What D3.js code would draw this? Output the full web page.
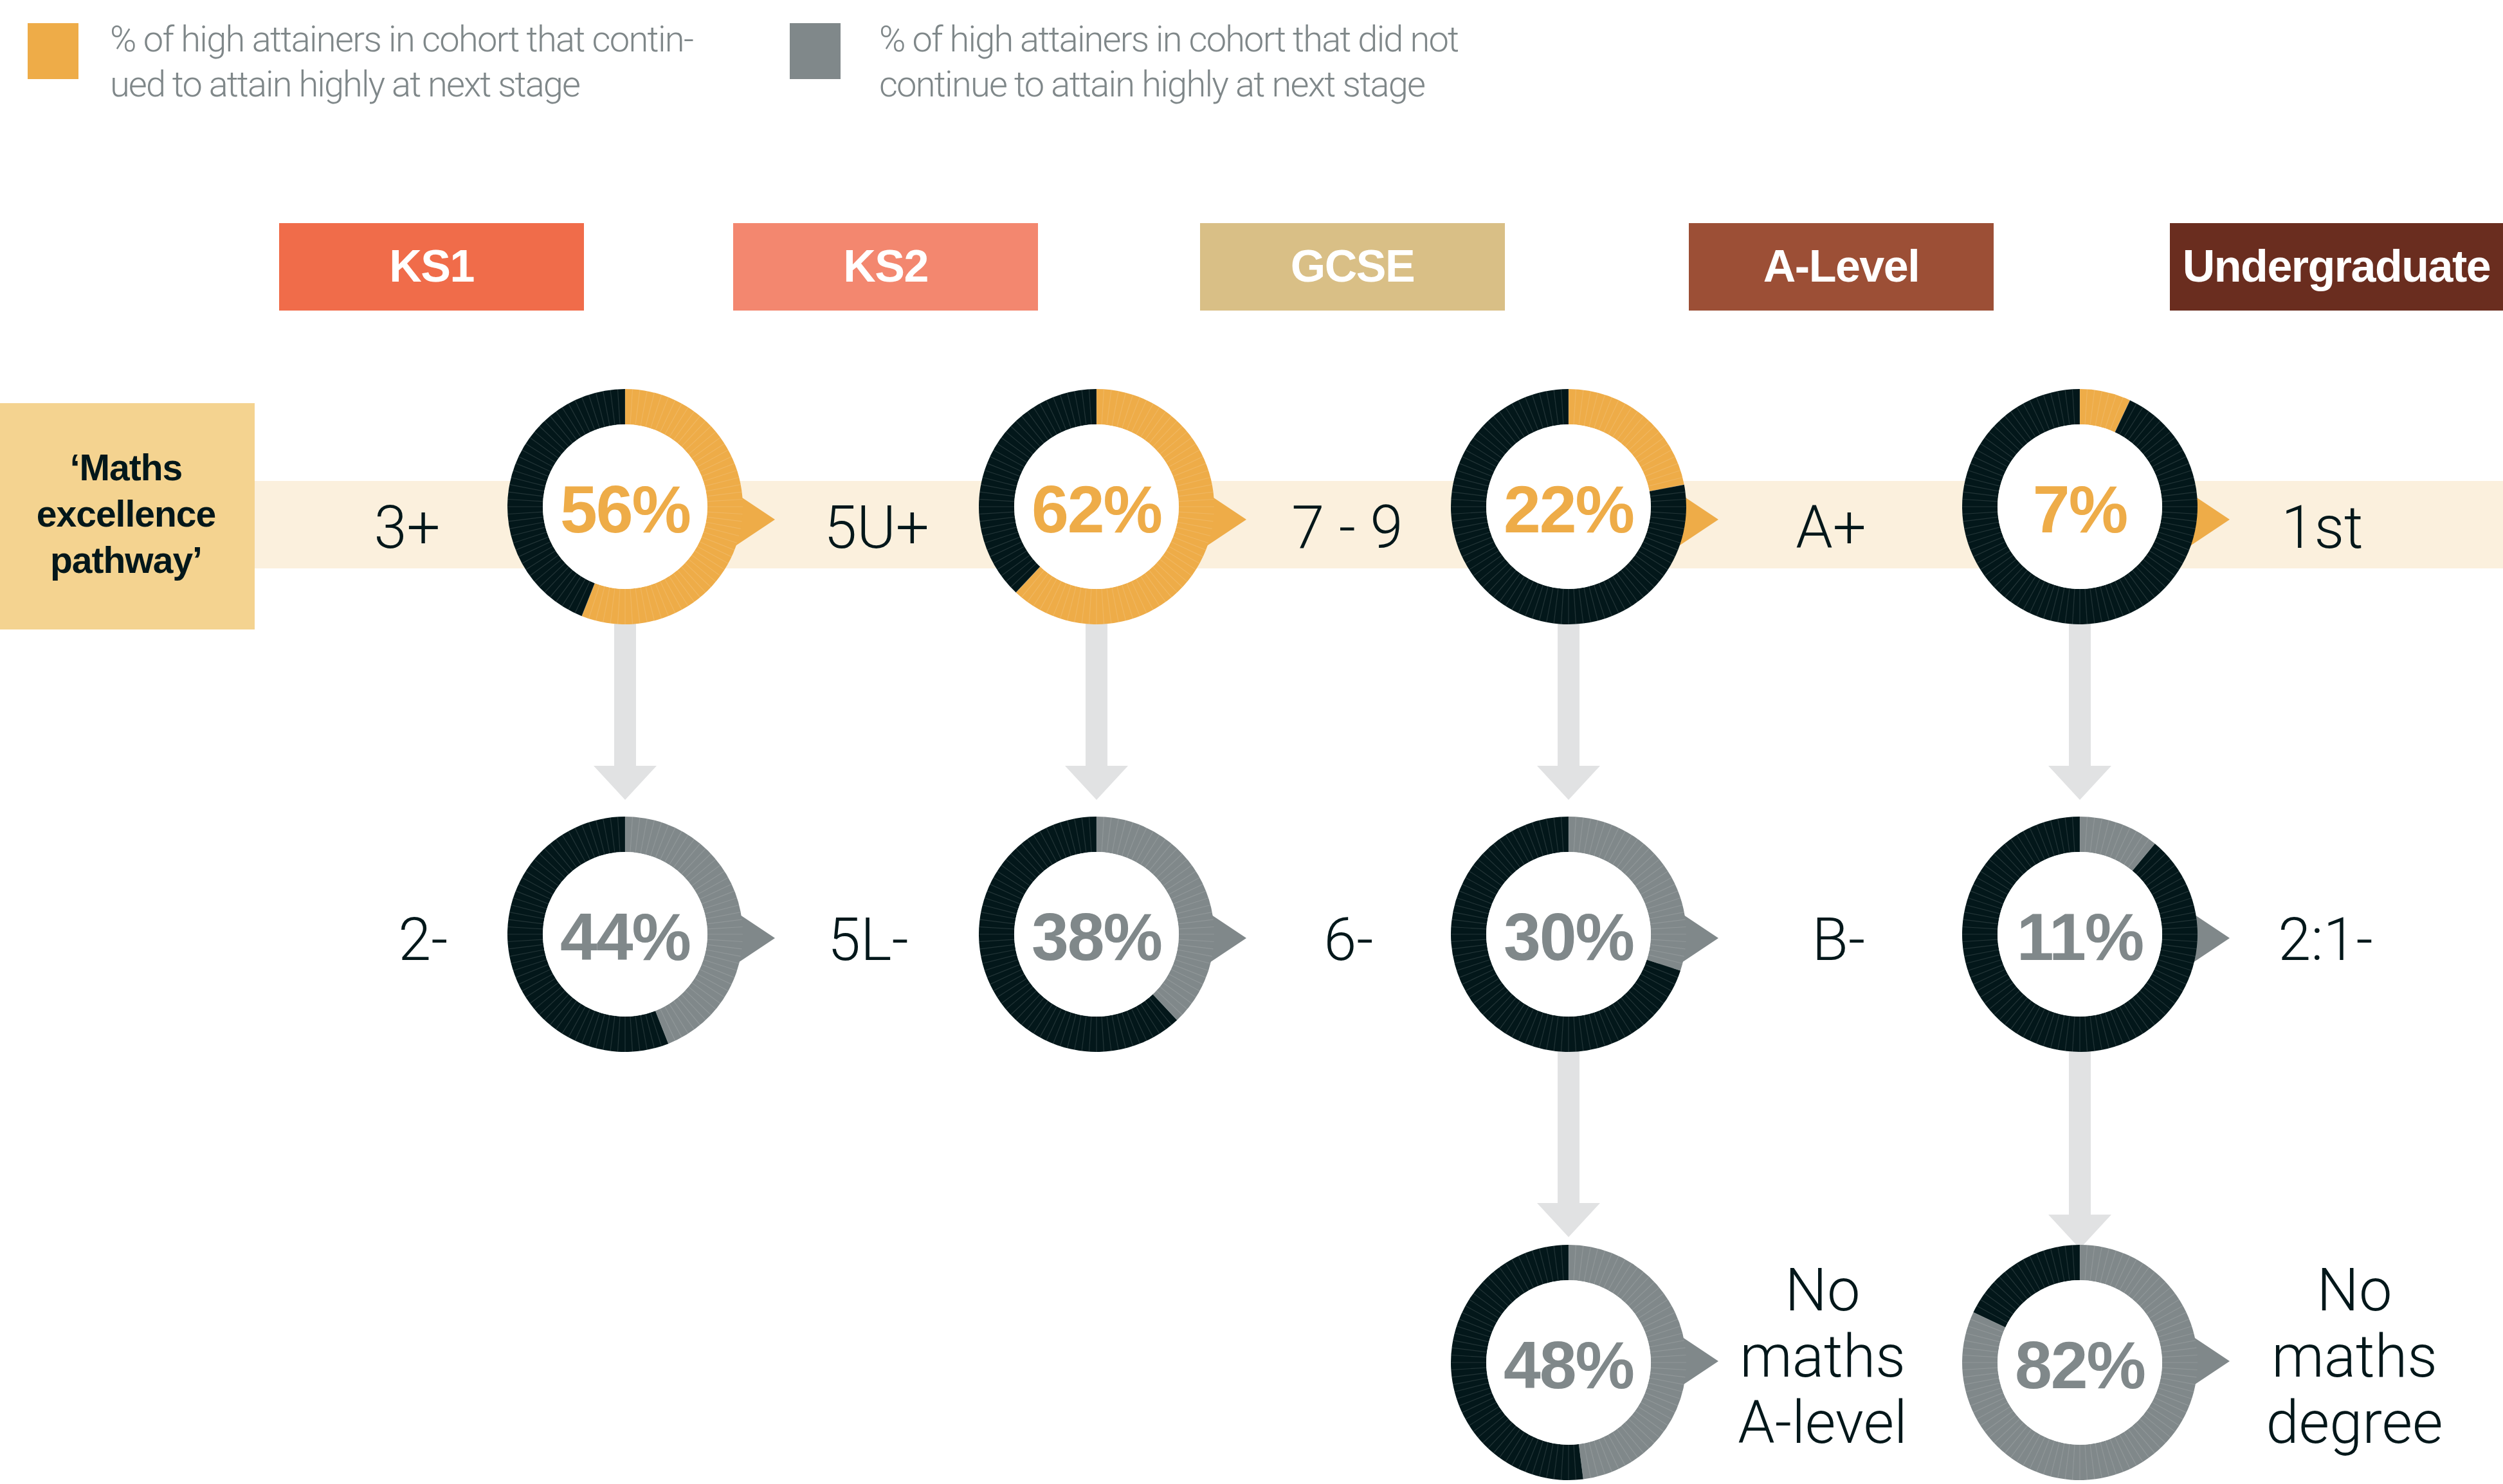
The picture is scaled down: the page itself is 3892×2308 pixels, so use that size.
<!DOCTYPE html>
<html>
<head>
<meta charset="utf-8">
<script src="https://cdn.jsdelivr.net/npm/d3@7"></script>
<style>
  body { margin: 0; background: #fff; }
  svg { display: block; }
  .light { font-family: "Roboto", "Liberation Sans", sans-serif; font-weight: 300; }
  .bold { font-family: "Liberation Sans", Arial, sans-serif; font-weight: 700; }
</style>
</head>
<body>
<svg id="chart" width="3892" height="2308"></svg>
<script>
"use strict";

// data
var stages = ["KS1", "KS2", "GCSE", "A-Level", "Undergraduate"];
var continuedPct = [56, 62, 22, 7];
var notContinuedPct = [44, 38, 30, 11];
var noMathsPct = [48, 82];           // GCSE and A-Level columns
var highGrades = ["3+", "5U+", "7 - 9", "A+", "1st"];
var lowGrades = ["2-", "5L-", "6-", "B-", "2:1-"];
var noMathsLabels = [["No", "maths", "A-level"], ["No", "maths", "degree"]];
var legendLabels = [
    ["% of high attainers in cohort that contin-", "ued to attain highly at next stage"],
    ["% of high attainers in cohort that did not", "continue to attain highly at next stage"]
];
var pathwayLabel = ["\u2018Maths", "excellence", "pathway\u2019"];

// styles
var stageColors = ["#f06c4a", "#f3876f", "#d9bf86", "#9c4f36", "#6a2d1f"];
var ORANGE = "#eeac48", GREY = "#80888a", DARK = "#03171a";
var CREAM = "#fbf0dd", SAND = "#f4d390", CONNECTOR = "#e1e2e3";
var legendColors = [ORANGE, GREY];

var svg = d3.select("#chart");
var W = +svg.attr("width");

// layout scales
var headerX = d3.scaleOrdinal().domain(stages).range([434, 1140, 1866, 2626, 3374]);
var colX = d3.scaleOrdinal().domain(d3.range(4)).range([972, 1705, 2439, 3234]);
var rowY = d3.scaleOrdinal().domain([0, 1, 2]).range([788, 1453, 2119]);
var arrowY = d3.scaleOrdinal().domain([0, 1, 2]).range([808, 1459, 2117]);
var highX = d3.scaleOrdinal().domain(highGrades).range([633, 1363, 2095, 2847, 3611]);
var lowX = d3.scaleOrdinal().domain(lowGrades).range([658, 1350, 2097, 2859, 3616]);
var noMathsX = d3.scaleOrdinal().domain([0, 1]).range([2834, 3661]);
var innerR = 128, outerR = 183;

// ---------------------------------------------------------------- legend
var legend = svg.append("g");
var lg = legend.selectAll("g").data(legendLabels).enter().append("g")
    .attr("transform", function (d, i) { return "translate(" + [43, 1228][i] + ",0)"; });
lg.append("rect")
    .attr("y", 36).attr("width", 79).attr("height", 87)
    .attr("fill", function (d, i) { return legendColors[i]; });
var legendLen = [[908, 732], [902, 850]];
lg.each(function (lines, i) {
    d3.select(this).selectAll("text").data(lines).enter().append("text")
        .attr("class", "light")
        .attr("x", [128, 139][i])
        .attr("y", function (d, j) { return 80 + j * 70; })
        .attr("font-size", 56)
        .attr("fill", "#7f8789")
        .attr("textLength", function (d, j) { return legendLen[i][j]; })
        .attr("lengthAdjust", "spacing")
        .text(function (d) { return d; });
});

// ---------------------------------------------------------------- stage headers
var hdr = svg.append("g").selectAll("g").data(stages).enter().append("g");
hdr.append("rect")
    .attr("x", function (d) { return headerX(d); })
    .attr("y", 347)
    .attr("width", function (d, i) { return i === stages.length - 1 ? W - headerX(d) : 474; })
    .attr("height", 136)
    .attr("fill", function (d, i) { return stageColors[i]; });
hdr.append("text")
    .attr("class", "bold")
    .attr("x", function (d, i) { return i === stages.length - 1 ? (headerX(d) + W) / 2 : headerX(d) + 237; })
    .attr("y", 438)
    .attr("text-anchor", "middle")
    .attr("font-size", 70)
    .attr("letter-spacing", -1.5)
    .attr("fill", "#fff")
    .text(function (d) { return d; });

// ---------------------------------------------------------------- pathway band
svg.append("rect")
    .attr("x", 396).attr("y", 748)
    .attr("width", W - 396).attr("height", 136)
    .attr("fill", CREAM);
svg.append("rect")
    .attr("x", 0).attr("y", 627)
    .attr("width", 396).attr("height", 352)
    .attr("fill", SAND);
svg.append("g").selectAll("text").data(pathwayLabel).enter().append("text")
    .attr("class", "bold")
    .attr("x", 196)
    .attr("y", function (d, i) { return 747 + i * 72; })
    .attr("text-anchor", "middle")
    .attr("font-size", 57)
    .attr("letter-spacing", -1)
    .attr("fill", DARK)
    .text(function (d) { return d; });

// ---------------------------------------------------------------- down connectors
var line = d3.line();
function connector(cx, y0, tipY) {
    var baseY = tipY - 53;
    var pts = [[cx - 17, y0], [cx + 17, y0], [cx + 17, baseY], [cx + 49, baseY],
        [cx, tipY], [cx - 49, baseY], [cx - 17, baseY]];
    svg.append("path").attr("d", line(pts) + "Z").attr("fill", CONNECTOR);
}
continuedPct.forEach(function (v, i) {
    connector(colX(i), rowY(0) + outerR - 10, rowY(1) - outerR - 26);
});
noMathsPct.forEach(function (v, i) {
    connector(colX(i + 2), rowY(1) + outerR - 10, rowY(2) - outerR - (i === 0 ? 12 : -6));
});

// ---------------------------------------------------------------- donuts
var arc = d3.arc().innerRadius(innerR).outerRadius(outerR);
var pie = d3.pie().sort(null).value(function (d) { return d; });

function donut(cx, cy, ay, pct, color) {
    var g = svg.append("g").attr("transform", "translate(" + cx + "," + cy + ")");
    var dy = ay - cy;
    g.append("path")
        .attr("d", line([[140, dy - 62], [233, dy], [140, dy + 62]]) + "Z")
        .attr("fill", color);
    g.selectAll(".seg").data(pie([pct, 100 - pct])).enter().append("path")
        .attr("class", "seg")
        .attr("d", arc)
        .attr("fill", function (d, i) { return i === 0 ? color : DARK; });
    // fine radial rules between the 100 units of the ring
    g.selectAll(".tick").data(d3.range(100)).enter().append("line")
        .attr("class", "tick")
        .attr("x1", function (d) { return innerR * Math.sin(d * Math.PI / 50); })
        .attr("y1", function (d) { return -innerR * Math.cos(d * Math.PI / 50); })
        .attr("x2", function (d) { return outerR * Math.sin(d * Math.PI / 50); })
        .attr("y2", function (d) { return -outerR * Math.cos(d * Math.PI / 50); })
        .attr("stroke", "rgba(255,255,255,0.13)")
        .attr("stroke-width", 1.2);
    g.append("circle").attr("r", innerR).attr("fill", "#fff");
    g.append("text")
        .attr("class", "bold")
        .attr("y", 40)
        .attr("text-anchor", "middle")
        .attr("font-size", 104)
        .attr("letter-spacing", -2)
        .attr("fill", color)
        .text(pct + "%");
}

continuedPct.forEach(function (v, i) { donut(colX(i), rowY(0), arrowY(0), v, ORANGE); });
notContinuedPct.forEach(function (v, i) { donut(colX(i), rowY(1), arrowY(1), v, GREY); });
noMathsPct.forEach(function (v, i) { donut(colX(i + 2), rowY(2), arrowY(2), v, GREY); });

// ---------------------------------------------------------------- grade labels
svg.append("g").selectAll("text").data(highGrades).enter().append("text")
    .attr("class", "light")
    .attr("x", function (d) { return highX(d); })
    .attr("y", 852)
    .attr("text-anchor", "middle")
    .attr("font-size", 92)
    .attr("fill", DARK)
    .text(function (d) { return d; });
svg.append("g").selectAll("text").data(lowGrades).enter().append("text")
    .attr("class", "light")
    .attr("x", function (d) { return lowX(d); })
    .attr("y", 1493)
    .attr("text-anchor", "middle")
    .attr("font-size", 92)
    .attr("fill", DARK)
    .text(function (d) { return d; });
noMathsLabels.forEach(function (lines, i) {
    svg.append("g").selectAll("text").data(lines).enter().append("text")
        .attr("class", "light")
        .attr("x", noMathsX(i))
        .attr("y", function (d, j) { return 2038 + j * 103; })
        .attr("text-anchor", "middle")
        .attr("font-size", 92)
        .attr("fill", DARK)
        .text(function (d) { return d; });
});
</script>
</body>
</html>
